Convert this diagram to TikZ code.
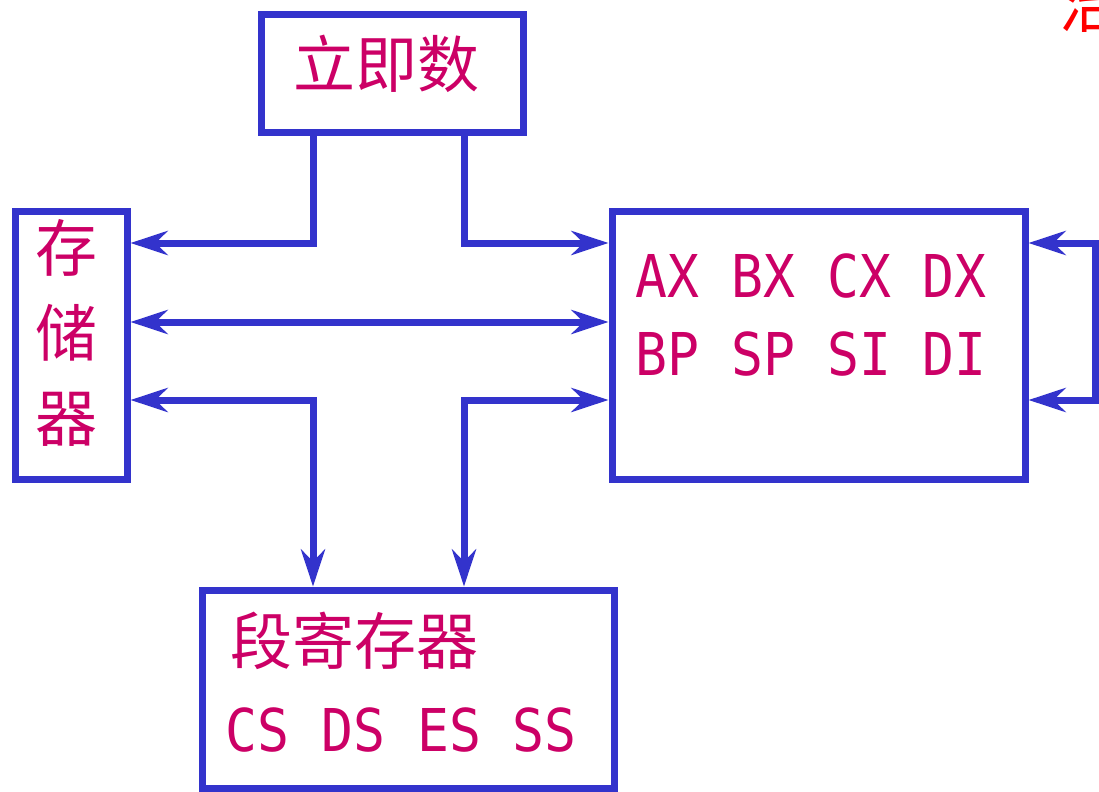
\documentclass[tikz,border=0pt]{standalone}
\usepackage{fontspec}
\newfontfamily\cjkfont{Noto Sans CJK SC}
\newfontfamily\monofont[FakeStretch=0.9]{DejaVu Sans Mono}
\usetikzlibrary{arrows.meta}
\definecolor{boxblue}{HTML}{3333CC}
\definecolor{txtmag}{HTML}{CC0066}
\definecolor{titlered}{HTML}{FF0000}
\tikzset{
  frame/.style={draw=boxblue, line width=5.25pt, inner sep=0pt, rectangle},
  cjktext/.style={text=txtmag, inner sep=0pt, font=\cjkfont\fontsize{46.5}{63.75}\selectfont},
  regtext/.style={text=txtmag, inner sep=0pt, anchor=base west, font=\monofont\fontsize{44.25}{50}\selectfont},
  conn/.style={draw=boxblue, line width=5.25pt, line join=miter},
  tip/.tip={Stealth[length=27.75pt, width=18pt, inset=9pt]},
  oneway/.style={conn, -tip},
  twoway/.style={conn, tip-tip},
}
\begin{document}
\begin{tikzpicture}[x=0.75pt, y=-0.75pt]
\useasboundingbox (0,0) rectangle (1099,792);
% boxes
\node[frame, minimum width=262*0.75pt, minimum height=117*0.75pt] (imm) at (392,73.5) {};
\node[frame, minimum width=112*0.75pt, minimum height=268*0.75pt] (mem) at (71,345) {};
\node[frame, minimum width=413*0.75pt, minimum height=268*0.75pt] (reg) at (818.5,345) {};
\node[frame, minimum width=412*0.75pt, minimum height=198*0.75pt] (seg) at (408,689) {};
% texts
\node[cjktext] (immt) at (386,64) {立即数};
\node[cjktext, align=center] (memt) at (66,333) {存\\储\\器};
\node[cjktext] (segt) at (354,641) {段寄存器};
\node[regtext] (reg1) at (635,297) {AX BX CX DX};
\node[regtext] (reg2) at (635,375) {BP SP SI DI};
\node[regtext] (segr) at (225,751) {CS DS ES SS};
\node[cjktext, text=titlered, anchor=north west] (title) at (1059,-25) {治};
% routing points
\coordinate (k1) at (313,243);
\coordinate (k2) at (464,243);
\coordinate (k3) at (313,322);
\coordinate (k4) at (313,400);
\coordinate (k5) at (464,400);
\coordinate (la) at (1095,243);
\coordinate (lb) at (1095,400);
% connectors
\draw[oneway] (imm.south -| k1) |- (mem.east |- k1);
\draw[oneway] (imm.south -| k2) |- (reg.west |- k2);
\draw[twoway] (mem.east |- k3) -- (reg.west |- k3);
\draw[twoway] (mem.east |- k4) -| (seg.north -| k4);
\draw[twoway] (reg.west |- k5) -| (seg.north -| k5);
\draw[twoway] (reg.east |- la) -- (la) -- (lb) -- (reg.east |- lb);
\end{tikzpicture}
\end{document}
